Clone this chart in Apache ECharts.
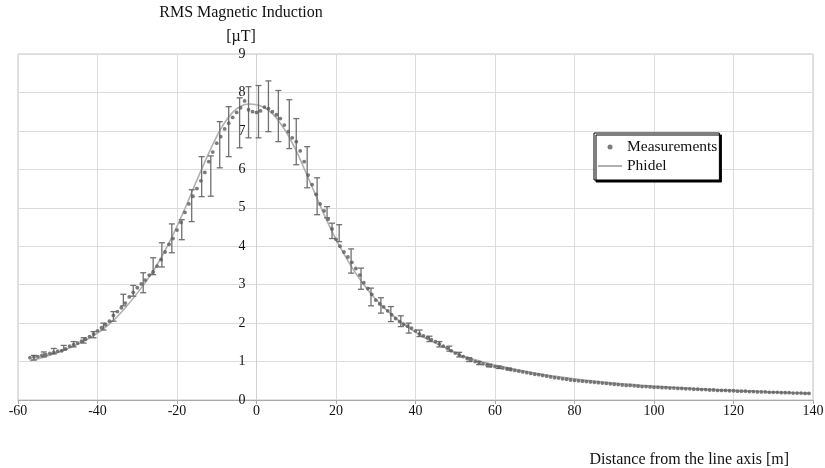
<!DOCTYPE html>
<html>
<head>
<meta charset="utf-8">
<script src="https://cdn.jsdelivr.net/npm/echarts@6/dist/echarts.min.js"></script>
<style>html,body{margin:0;padding:0;background:#fff}#c{width:825px;height:468px}</style>
</head>
<body>
<div id="c"></div>
<script>
// Measurements: distance from -57 m to 139 m, 1 m apart
const measStart = -57;
const measStep = 1;
const measValues = [
  1.10, 1.12, 1.13, 1.16, 1.18, 1.21, 1.24, 1.27, 1.28, 1.33,
  1.40, 1.44, 1.48, 1.53, 1.58, 1.65, 1.72, 1.80, 1.88, 1.96,
  2.05, 2.20, 2.30, 2.40, 2.52, 2.68, 2.80, 2.92, 3.02, 3.12,
  3.25, 3.33, 3.48, 3.65, 3.85, 4.05, 4.20, 4.42, 4.62, 4.88,
  5.10, 5.30, 5.50, 5.70, 5.92, 6.20, 6.45, 6.68, 6.85, 7.05,
  7.20, 7.35, 7.48, 7.60, 7.78, 7.55, 7.50, 7.48, 7.52, 7.62,
  7.58, 7.50, 7.42, 7.32, 7.15, 6.98, 6.82, 6.72, 6.48, 6.20,
  5.85, 5.60, 5.35, 5.10, 4.92, 4.70, 4.45, 4.18, 4.00, 3.85,
  3.72, 3.58, 3.42, 3.25, 3.05, 2.90, 2.75, 2.60, 2.50, 2.42,
  2.32, 2.22, 2.12, 2.04, 1.97, 1.92, 1.87, 1.80, 1.72, 1.67,
  1.62, 1.57, 1.52, 1.46, 1.40, 1.35, 1.28, 1.22, 1.17, 1.13,
  1.08, 1.04, 1.00, 0.97, 0.94, 0.91, 0.89, 0.87, 0.85, 0.83,
  0.81, 0.79, 0.77, 0.75, 0.73, 0.71, 0.69, 0.67, 0.66, 0.64,
  0.62, 0.60, 0.58, 0.57, 0.55, 0.54, 0.52, 0.51, 0.50, 0.49,
  0.48, 0.47, 0.46, 0.45, 0.44, 0.43, 0.42, 0.41, 0.40, 0.39,
  0.38, 0.38, 0.37, 0.36, 0.35, 0.35, 0.34, 0.33, 0.33, 0.32,
  0.32, 0.31, 0.31, 0.30, 0.30, 0.29, 0.29, 0.28, 0.28, 0.27,
  0.27, 0.26, 0.26, 0.25, 0.25, 0.25, 0.24, 0.24, 0.23, 0.23,
  0.23, 0.22, 0.22, 0.21, 0.21, 0.21, 0.20, 0.20, 0.20, 0.19,
  0.19, 0.19, 0.18, 0.18, 0.18, 0.17, 0.17
];

// Error bars: position, low, high
const errX    = [-56, -53.5, -51, -48.5, -46, -43.5, -41, -38.5, -36, -33.5, -31, -28.5, -26, -23.8, -21.3, -18.8, -16.3, -13.8, -11.5, -9.25, -7, -4.25, -2, 0.5, 3, 5.5, 8.25, 10, 12.75, 15.25, 17.75, 19, 20.8, 23.8, 26.3, 28.8, 31.3, 33.8, 36.3, 38.3, 41, 43.5, 46, 48.5, 51, 53.5, 56, 58.5, 61, 63.5];
const errLow  = [1.04, 1.12, 1.20, 1.30, 1.38, 1.48, 1.62, 1.82, 2.05, 2.45, 2.70, 2.79, 3.26, 3.46, 3.83, 4.17, 4.64, 5.29, 5.30, 6.04, 6.33, 6.56, 6.82, 6.82, 6.98, 6.72, 6.54, 6.12, 5.52, 4.82, 4.74, 4.20, 4.12, 3.30, 2.88, 2.45, 2.26, 2.04, 1.91, 1.74, 1.65, 1.52, 1.38, 1.27, 1.12, 1.00, 0.92, 0.86, 0.82, 0.78];
const errHigh = [1.16, 1.25, 1.34, 1.42, 1.52, 1.62, 1.78, 2.00, 2.30, 2.75, 2.98, 3.31, 3.70, 4.09, 4.58, 4.69, 5.47, 6.33, 6.35, 7.24, 7.63, 7.86, 8.15, 8.18, 8.30, 8.05, 7.81, 7.32, 6.59, 5.78, 5.03, 4.60, 4.56, 3.93, 3.43, 2.91, 2.66, 2.43, 2.19, 2.00, 1.82, 1.66, 1.52, 1.40, 1.24, 1.10, 1.00, 0.93, 0.88, 0.83];

// Phidel calculation
const phidelX = [-57, -54, -51, -48, -45, -42, -39, -36, -33, -30, -27, -24, -21, -18, -15, -12, -10, -8, -6, -4, -2, 0, 2, 4, 6, 8, 10, 12, 15, 18, 21, 24, 27, 30, 33, 36, 39, 42, 45, 48, 51, 54, 57, 60, 65, 70, 75, 80, 85, 90, 95, 100, 105, 110, 115, 120, 125, 130, 135, 139];
const phidelY = [1.02, 1.10, 1.20, 1.31, 1.45, 1.61, 1.81, 2.07, 2.40, 2.78, 3.20, 3.70, 4.30, 4.98, 5.72, 6.42, 6.86, 7.22, 7.48, 7.64, 7.70, 7.68, 7.60, 7.45, 7.20, 6.88, 6.48, 6.02, 5.30, 4.60, 3.98, 3.45, 3.00, 2.62, 2.31, 2.05, 1.83, 1.64, 1.48, 1.34, 1.18, 1.08, 0.99, 0.91, 0.80, 0.70, 0.62, 0.55, 0.49, 0.44, 0.40, 0.36, 0.33, 0.30, 0.27, 0.25, 0.23, 0.21, 0.19, 0.18];

const xTicks = [-60, -40, -20, 0, 20, 40, 60, 80, 100, 120, 140];
const yTicks = [0, 1, 2, 3, 4, 5, 6, 7, 8, 9];

const measData = measValues.map((v, i) => [measStart + i * measStep, v]);
const errData = errX.map((x, i) => [x, errLow[i], errHigh[i]]);
const phidelData = phidelX.map((x, i) => [x, phidelY[i]]);

const serif = 'Liberation Serif';
const gridLeft = 18;
const chart = echarts.init(document.getElementById('c'), null, {renderer: 'canvas'});
chart.setOption({
  animation: false,
  backgroundColor: '#fff',
  textStyle: {fontFamily: serif},
  grid: {left: gridLeft, right: 12, top: 54, bottom: 68, show: true, borderColor: '#c4c4c4', borderWidth: 1,
         outerBoundsMode: 'none', containLabel: false},
  title: [
    {
      text: 'Distance from the line axis [m]',
      right: 31, top: 447,
      textStyle: {fontFamily: serif, fontSize: 16, fontWeight: 'normal', color: '#111'}
    },
    {
      text: 'RMS Magnetic Induction\n[\u00b5T]',
      left: 241, top: 1, padding: 0,
      textAlign: 'center',
      textStyle: {fontFamily: serif, fontSize: 16, fontWeight: 'normal', color: '#111', lineHeight: 24, align: 'center'}
    }
  ],
  legend: {
    orient: 'vertical',
    left: 594, top: 133,
    padding: [6, 2, 6, 3],
    itemGap: 3,
    itemWidth: 24, itemHeight: 5,
    backgroundColor: '#fff',
    borderColor: '#000', borderWidth: 1,
    shadowColor: '#000', shadowOffsetX: 2, shadowOffsetY: 2, shadowBlur: 0,
    textStyle: {fontFamily: serif, fontSize: 15.5, color: '#111'},
    data: [
      {name: 'Measurements', icon: 'circle'},
      {name: 'Phidel', itemStyle: {color: 'rgba(0,0,0,0)', borderColor: 'rgba(0,0,0,0)', borderWidth: 0}}
    ]
  },
  xAxis: {
    type: 'value', min: -60, max: 140, interval: 20,
    axisLine: {onZero: true, lineStyle: {color: '#aaa'}},
    axisTick: {show: true, length: 4, lineStyle: {color: '#aaa'}},
    splitLine: {show: true, lineStyle: {color: '#dcdcdc'}},
    axisLabel: {fontFamily: serif, fontSize: 14, color: '#111', margin: 4}
  },
  yAxis: {
    type: 'value', min: 0, max: 9, interval: 1,
    axisLine: {show: true, onZero: false, lineStyle: {color: '#d0d0d0'}},
    axisTick: {show: false},
    splitLine: {show: true, lineStyle: {color: '#dcdcdc'}},
    axisLabel: {fontFamily: serif, fontSize: 14, color: '#111', margin: 11}
  },
  series: [
    {
      name: 'Phidel', type: 'line', data: phidelData, smooth: 0.4,
      showSymbol: false, symbol: 'none',
      lineStyle: {color: '#b0b0b0', width: 1.6},
      itemStyle: {color: '#b0b0b0'},
      z: 2
    },
    {
      name: 'Error', type: 'custom', data: errData,
      encode: {x: 0, y: [1, 2]},
      renderItem: function (params, api) {
        const x = api.value(0);
        const lo = api.coord([x, api.value(1)]);
        const hi = api.coord([x, api.value(2)]);
        const w = 3;
        const st = {stroke: '#707070', lineWidth: 1.3};
        return {type: 'group', children: [
          {type: 'line', shape: {x1: lo[0], y1: lo[1], x2: hi[0], y2: hi[1]}, style: st},
          {type: 'line', shape: {x1: lo[0] - w, y1: lo[1], x2: lo[0] + w, y2: lo[1]}, style: st},
          {type: 'line', shape: {x1: hi[0] - w, y1: hi[1], x2: hi[0] + w, y2: hi[1]}, style: st}
        ]};
      },
      z: 3
    },
    {
      name: 'Measurements', type: 'scatter', data: measData,
      symbol: 'circle', symbolSize: 3.8,
      itemStyle: {color: '#5a5a5a'},
      z: 4
    }
  ]
});
// place the value axis on x = 0 of the distance axis
const zeroX = chart.convertToPixel({xAxisIndex: 0}, 0);
chart.setOption({yAxis: {offset: -(zeroX - gridLeft)}});
</script>
</body>
</html>
